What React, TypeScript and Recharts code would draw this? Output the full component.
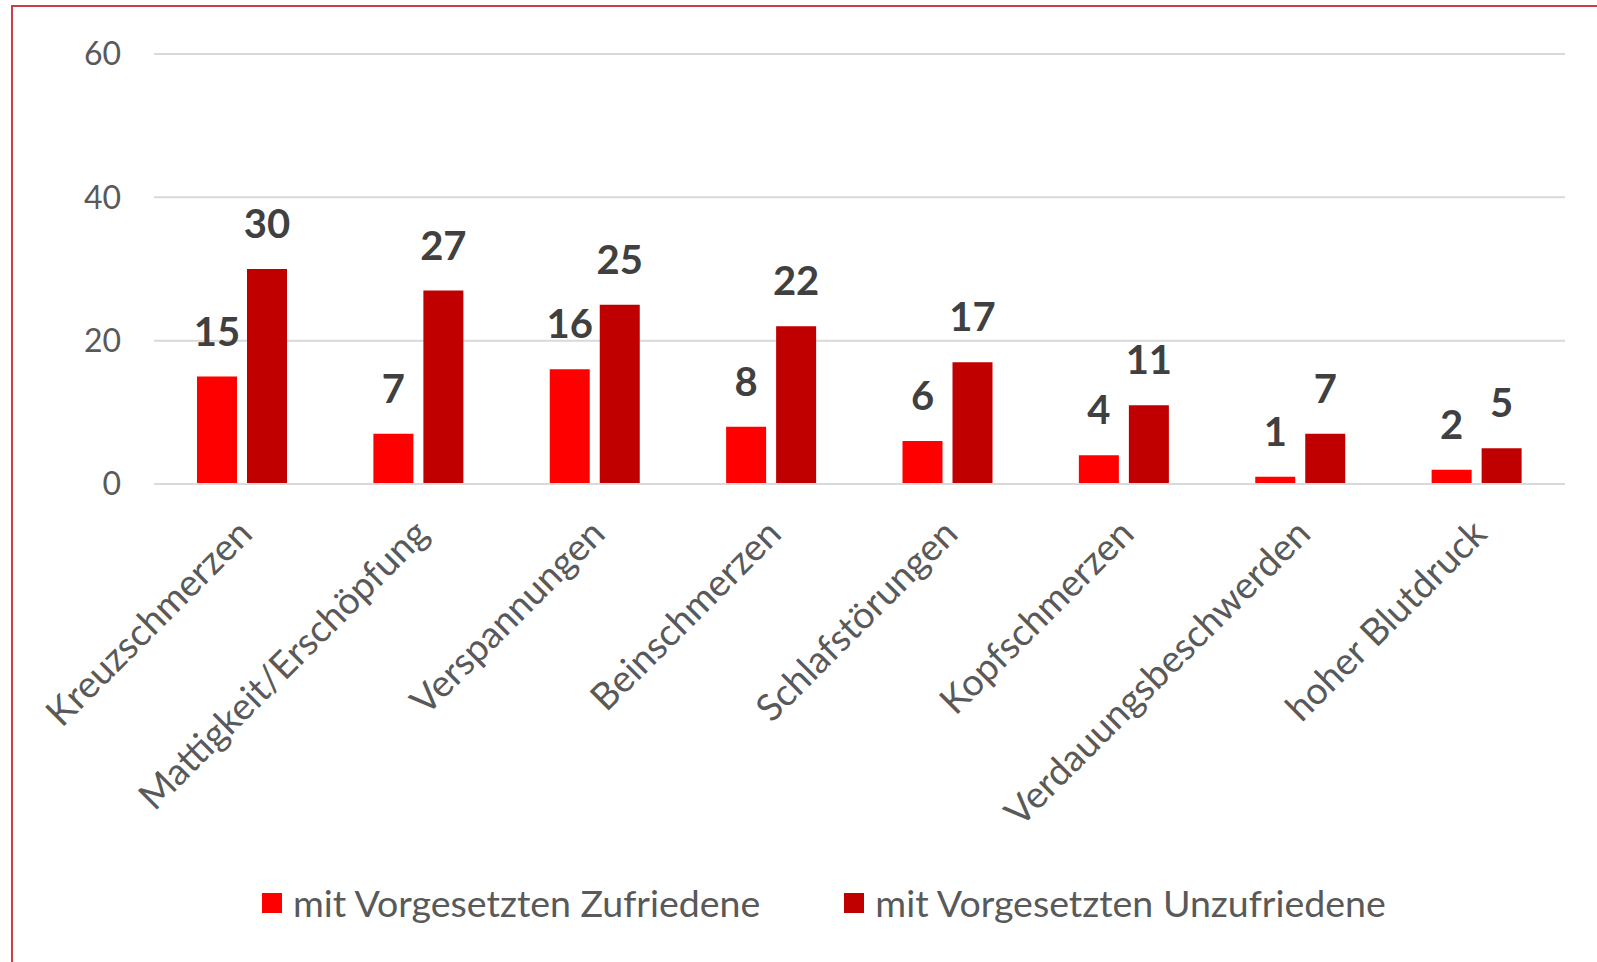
import React from 'react';
import { BarChart, Bar, XAxis, YAxis, CartesianGrid, Legend, LabelList } from 'recharts';

const categories = [
  'Kreuzschmerzen',
  'Mattigkeit/Erschöpfung',
  'Verspannungen',
  'Beinschmerzen',
  'Schlafstörungen',
  'Kopfschmerzen',
  'Verdauungsbeschwerden',
  'hoher Blutdruck',
];
const zufriedene = [15, 7, 16, 8, 6, 4, 1, 2];
const unzufriedene = [30, 27, 25, 22, 17, 11, 7, 5];
const yTicks = [0, 20, 40, 60];
const seriesNames = ['mit Vorgesetzten Zufriedene', 'mit Vorgesetzten Unzufriedene'];
const seriesColors = ['#ff0000', '#c00000'];

const data = categories.map((c, i) => ({ name: c, z: zufriedene[i], u: unzufriedene[i] }));

const FONT = 'Lato, "Open Sans", sans-serif';
const AXIS_COLOR = '#595959';

const XTick = (props: any) => {
  const { x, y, payload } = props;
  return (
    <g transform={`translate(${x + 12},${y + 52}) rotate(-45)`}>
      <text x={0} y={0} textAnchor="end" fill={AXIS_COLOR} fontSize={37.5} fontFamily={FONT}>
        {payload.value}
      </text>
    </g>
  );
};

const LegendContent = () => {
  return (
    <div style={{ display: 'flex', alignItems: 'center', fontFamily: FONT, fontSize: 37.5, color: AXIS_COLOR }}>
      {seriesNames.map((name, i) => (
        <div key={i} style={{ display: 'flex', alignItems: 'center', marginRight: i === 0 ? 84 : 0 }}>
          <div style={{ width: 20, height: 20, background: seriesColors[i], marginRight: 11 }} />
          <span style={{ lineHeight: '40px', whiteSpace: 'nowrap' }}>{name}</span>
        </div>
      ))}
    </div>
  );
};

export default function App() {
  return (
    <div style={{ position: 'absolute', left: 0, top: 0, width: 1597, height: 962, overflow: 'hidden', background: '#fff' }}>
      <div style={{ position: 'absolute', left: 11, top: 5, width: 1700, height: 1100, border: '2px solid #cc3d4a', boxSizing: 'border-box' }} />
      <div style={{ position: 'absolute', left: 0, top: 0 }}>
        <BarChart
          width={1597}
          height={962}
          data={data}
          margin={{ top: 54, right: 32, left: 34, bottom: 178 }}
          barSize={40}
          barGap={10}
        >
          <CartesianGrid vertical={false} stroke="#d9d9d9" strokeWidth={2} />
          <XAxis
            dataKey="name"
            height={300}
            interval={0}
            axisLine={{ stroke: '#d9d9d9', strokeWidth: 2 }}
            tickLine={false}
            tickSize={0}
            tickMargin={0}
            tick={<XTick />}
          />
          <YAxis
            width={120}
            domain={[0, 60]}
            ticks={yTicks}
            axisLine={false}
            tickLine={false}
            tickSize={0}
            tickMargin={33}
            tick={{ fill: AXIS_COLOR, fontSize: 32, fontFamily: FONT }}
          />
          <Legend
            layout="horizontal"
            verticalAlign="middle"
            align="center"
            wrapperStyle={{ top: 883, left: 262, width: 1300 }}
            content={<LegendContent />}
          />
          <Bar dataKey="z" name={seriesNames[0]} fill={seriesColors[0]} isAnimationActive={false}>
            <LabelList dataKey="z" position="top" offset={31} fill="#404040" fontSize={40} fontWeight="bold" fontFamily={FONT} />
          </Bar>
          <Bar dataKey="u" name={seriesNames[1]} fill={seriesColors[1]} isAnimationActive={false}>
            <LabelList dataKey="u" position="top" offset={31} fill="#404040" fontSize={40} fontWeight="bold" fontFamily={FONT} />
          </Bar>
        </BarChart>
      </div>
    </div>
  );
}
